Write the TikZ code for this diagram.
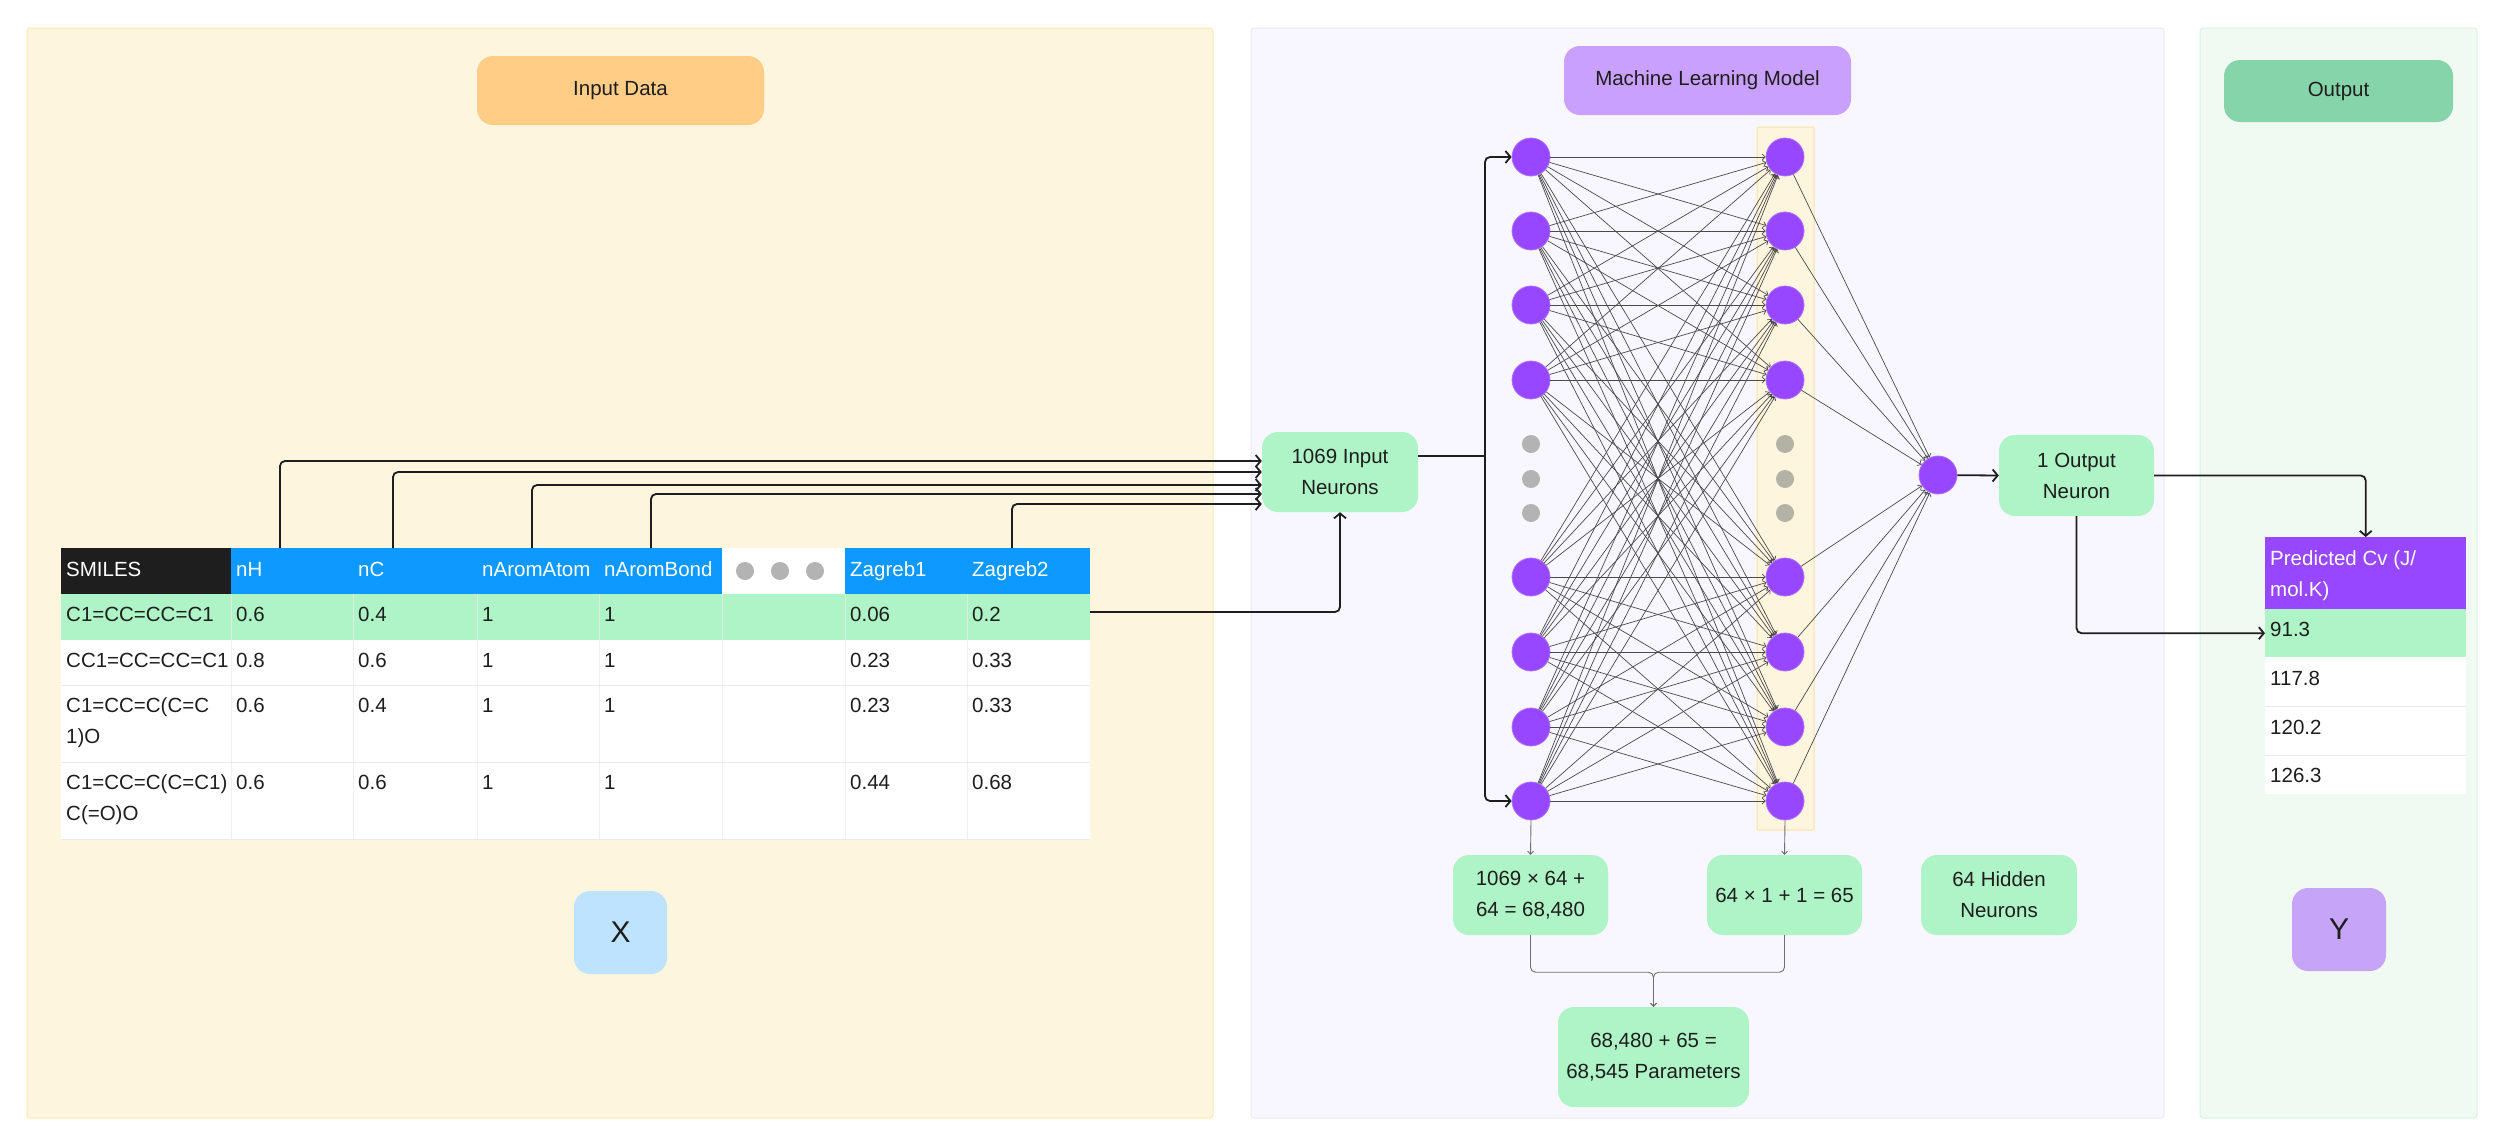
\documentclass[tikz,border=0pt]{standalone}
\usepackage{fontspec}
\setmainfont{Liberation Sans}
\usetikzlibrary{arrows.meta}
\definecolor{txt}{HTML}{1E1E1E}
\definecolor{inFill}{HTML}{FEF5DF}
\definecolor{inBorder}{HTML}{FCEAB2}
\definecolor{mlFill}{HTML}{F8F6FE}
\definecolor{mlBorder}{HTML}{ECE8F8}
\definecolor{outFill}{HTML}{F0FAF2}
\definecolor{outBorder}{HTML}{DAF2E2}
\definecolor{orangeT}{HTML}{FFCD86}
\definecolor{purpleT}{HTML}{CAA0FE}
\definecolor{greenT}{HTML}{86D5AA}
\definecolor{greenBox}{HTML}{AFF4C6}
\definecolor{blueX}{HTML}{BDE3FE}
\definecolor{purpleY}{HTML}{C6A5F9}
\definecolor{neur}{HTML}{9747FF}
\definecolor{neurEdge}{HTML}{AE70FF}
\definecolor{blueH}{HTML}{0D99FF}
\definecolor{darkH}{HTML}{1E1E1E}
\definecolor{dotA}{HTML}{B3B3B3}
\definecolor{dotB}{HTML}{B4B1A5}
\definecolor{edgeC}{HTML}{4A4A4A}
\definecolor{tconnC}{HTML}{6E6E6E}
\definecolor{gridC}{HTML}{EBEBEB}
\definecolor{bandBorder}{HTML}{FBE3A2}
\begin{document}
\begin{tikzpicture}[x=1pt,y=-1pt,
  every node/.style={text=txt, font=\fontsize{20.5}{31}\selectfont},
  box/.style={rounded corners=16pt, inner sep=0pt, align=center},
  neuron/.style={circle, fill=neur, draw=neurEdge, line width=0.8pt, minimum size=38pt, inner sep=0pt},
  gdot/.style={circle, fill=#1, minimum size=18pt, inner sep=0pt},
  edge/.style={draw=edgeC, line width=0.7pt, -{Straight Barb[length=3pt,width=6pt]}},
  conn/.style={draw=txt, line width=1.8pt, rounded corners=5pt, -{Straight Barb[length=5pt,width=12pt]}},
  connplain/.style={draw=txt, line width=1.8pt, rounded corners=5pt},
  tconn/.style={draw=tconnC, line width=0.9pt, rounded corners=5pt, -{Straight Barb[length=3pt,width=6pt]}},
  cell/.style={anchor=base west, inner sep=0pt},
  hcell/.style={cell, text=white},
  tcell/.style={anchor=north west, inner sep=0pt, draw=none},
]
\useasboundingbox (0,0) rectangle (2494,1138);
\fill[white] (0,0) rectangle (2494,1138);

% panels
\draw[draw=inBorder, fill=inFill, line width=1pt, rounded corners=3pt] (27,28) rectangle (1213,1118);
\draw[draw=mlBorder, fill=mlFill, line width=1pt, rounded corners=3pt] (1251,28) rectangle (2164,1118);
\draw[draw=outBorder, fill=outFill, line width=1pt, rounded corners=3pt] (2200,28) rectangle (2477,1118);

% titles
\node[box, fill=orangeT, minimum width=287pt, minimum height=69pt] (inTitle) at (620.5,90.5) {Input Data};
\node[box, fill=purpleT, minimum width=287pt, minimum height=69pt] (mlTitle) at (1707.5,80.5) {Machine Learning Model};
\node[box, fill=greenT, minimum width=229pt, minimum height=62pt] (outTitle) at (2338.5,91) {Output};

% X and Y
\node[box, fill=blueX, minimum width=93pt, minimum height=83pt, font=\fontsize{30}{36}\selectfont] (xbox) at (620.5,932.5) {X};
\node[box, fill=purpleY, minimum width=94pt, minimum height=83pt, font=\fontsize{30}{36}\selectfont] (ybox) at (2339,929.5) {Y};

% ---------- input table ----------
\fill[darkH] (61,548) rectangle (231,594);
\fill[blueH] (231,548) rectangle (722,594);
\fill[white] (722,548) rectangle (845,594);
\fill[blueH] (845,548) rectangle (1090,594);
\fill[greenBox] (61,594) rectangle (1090,640);
\fill[white] (61,640) rectangle (1090,839);
\foreach \gx in {231,353,477,599,722,845,967}
  \draw[gridC, line width=1pt, opacity=0.8] (\gx,594) -- (\gx,839);
\foreach \gy in {685,762,839}
  \draw[gridC, line width=1pt] (61,\gy) -- (1090,\gy);
\node[gdot=dotA] (hd1) at (745,571) {};
\node[gdot=dotA] (hd2) at (780,571) {};
\node[gdot=dotA] (hd3) at (815,571) {};

\foreach \tt/\tx [count=\k] in {SMILES/66, nH/236, nC/358, nAromAtom/482, nAromBond/604, Zagreb1/850, Zagreb2/972}
  \node[hcell] (th\k) at (\tx,576) {\tt};

\foreach \rr/\ry/\vA/\vB/\vC/\vD/\vE/\vF/\vG in {
   1/621/C1=CC=CC=C1/0.6/0.4/1/1/0.06/0.2,
   2/667/CC1=CC=CC=C1/0.8/0.6/1/1/0.23/0.33,
   3/712/C1=CC=C(C=C/0.6/0.4/1/1/0.23/0.33,
   4/789/C1=CC=C(C=C1)/0.6/0.6/1/1/0.44/0.68}{
  \node[cell] (r\rr c1) at (66,\ry) {\vA};
  \node[cell] (r\rr c2) at (236,\ry) {\vB};
  \node[cell] (r\rr c3) at (358,\ry) {\vC};
  \node[cell] (r\rr c4) at (482,\ry) {\vD};
  \node[cell] (r\rr c5) at (604,\ry) {\vE};
  \node[cell] (r\rr c6) at (850,\ry) {\vF};
  \node[cell] (r\rr c7) at (972,\ry) {\vG};
}
\node[cell] (r3c1b) at (66,743) {1)O};
\node[cell] (r4c1b) at (66,820) {C(=O)O};

% ---------- output table ----------
\node[tcell, fill=neur, minimum width=201pt, minimum height=72pt] (pred) at (2265,537) {};
\node[tcell, fill=greenBox, minimum width=201pt, minimum height=48pt] (prow1) at (2265,609) {};
\fill[white] (2265,657) rectangle (2466,794);
\foreach \gy in {706,755}
  \draw[gridC, line width=1pt] (2265,\gy) -- (2466,\gy);
\node[hcell] (pt1) at (2270,565) {Predicted Cv (J/};
\node[hcell] (pt2) at (2270,596) {mol.K)};
\node[cell] (pv1) at (2270,636) {91.3};
\node[cell] (pv2) at (2270,685) {117.8};
\node[cell] (pv3) at (2270,734) {120.2};
\node[cell] (pv4) at (2270,782) {126.3};

% ---------- network ----------
\draw[draw=bandBorder, fill=inFill, line width=1pt, rounded corners=1pt] (1757,127) rectangle (1814,830);
\foreach \ny [count=\k] in {157,231,305,380,577,652,727,801}{
  \node[neuron] (i\k) at (1531,\ny) {};
  \node[neuron] (h\k) at (1785,\ny) {};
}
\foreach \gy [count=\k] in {444,479,513}{
  \node[gdot=dotA] (gi\k) at (1531,\gy) {};
  \node[gdot=dotB] (gh\k) at (1785,\gy) {};
}
\node[neuron] (o) at (1938,475) {};
\foreach \a in {1,...,8}{
  \foreach \b in {1,...,8}
    \draw[edge] (i\a) -- (h\b);
  \draw[edge] (h\a) -- (o);
}

% boxes
\node[box, fill=greenBox, minimum width=156pt, minimum height=80pt] (inbox) at (1340,472) {1069 Input\\Neurons};
\node[box, fill=greenBox, minimum width=155pt, minimum height=81pt] (outbox) at (2076.5,475.5) {1 Output\\Neuron};
\node[box, fill=greenBox, minimum width=155pt, minimum height=80pt] (box1) at (1530.5,895) {1069 × 64 +\\64 = 68,480};
\node[box, fill=greenBox, minimum width=155pt, minimum height=80pt] (box2) at (1784.5,895) {64 × 1 + 1 = 65};
\node[box, fill=greenBox, minimum width=156pt, minimum height=80pt] (box3) at (1999,895) {64 Hidden\\Neurons};
\node[box, fill=greenBox, minimum width=191pt, minimum height=100pt] (params) at (1653.5,1057) {68,480 + 65 =\\68,545 Parameters};

% ---------- connectors ----------
\coordinate (cnH) at (280,548);
\coordinate (cnC) at (393,548);
\coordinate (cnAA) at (532,548);
\coordinate (cnAB) at (651,548);
\coordinate (cZ2) at (1012,548);
\coordinate (r1e) at (1090,612);
\coordinate (split) at (1485,456);
\draw[conn] (cnH) |- ([yshift=11pt]inbox.west);
\draw[conn] (cnC) |- (inbox.west);
\draw[conn] (cnAA) |- ([yshift=-13pt]inbox.west);
\draw[conn] (cnAB) |- ([yshift=-22pt]inbox.west);
\draw[conn] (cZ2) |- ([yshift=-32pt]inbox.west);
\draw[conn] (r1e) -| (inbox.south);
\draw[connplain] ([yshift=16pt]inbox.east) -- (split);
\draw[conn] (split) |- (i1.west);
\draw[conn] (split) |- (i8.west);
\draw[conn] (o) -- (outbox.west);
\draw[conn] (outbox.east) -| (pred.north);
\draw[conn] (outbox.south) |- (prow1.west);

\draw[tconn] (i8.south) -- (box1.north);
\draw[tconn] (h8.south) -- (box2.north);
\draw[tconn] (box1.south) -- ++(0,37) -| (params.north);
\draw[tconn] (box2.south) -- ++(0,37) -| (params.north);
\end{tikzpicture}
\end{document}
